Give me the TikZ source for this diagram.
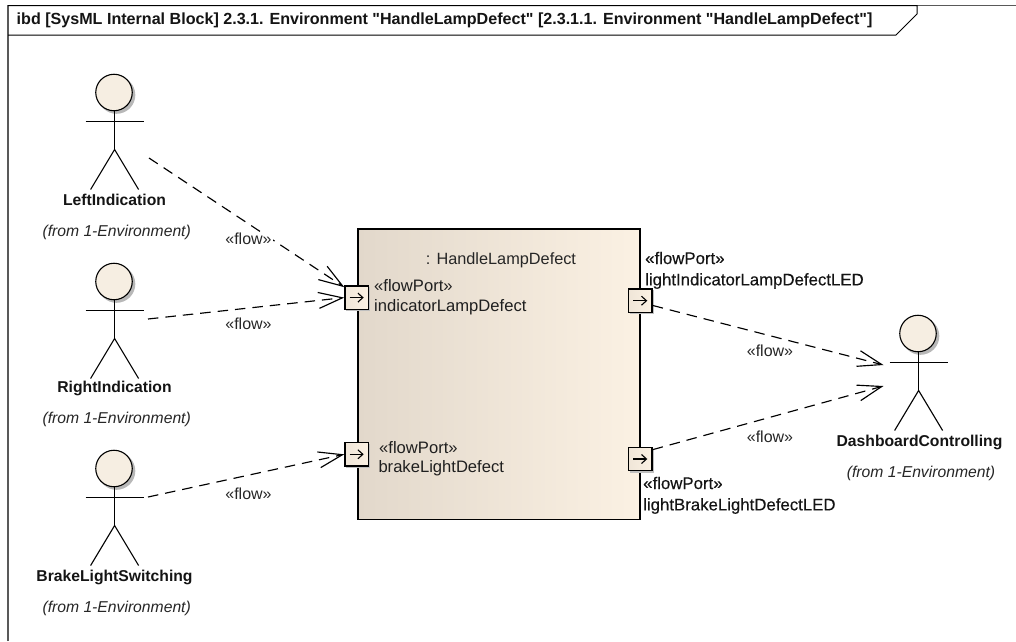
\documentclass[tikz,border=0pt]{standalone}
\usepackage{fontspec}
\setmainfont[Ligatures=TeXOff]{Liberation Sans}
\newfontfamily\semibold[Ligatures=TeXOff,FakeBold=0.25]{Liberation Sans}
\usetikzlibrary{arrows.meta}
\definecolor{fillL}{RGB}{226,216,203}
\definecolor{fillR}{RGB}{251,241,227}
\definecolor{headfill}{RGB}{246,238,226}
\tikzset{
 x=1pt,y=-1pt,
 txt/.style={inner sep=0pt,font=\fontsize{16.6}{18}\selectfont,text=black!88},
 txtb/.style={inner sep=0pt,font=\fontsize{16.8}{18}\semibold,text=black!92},
 bold/.style={inner sep=0pt,font=\fontsize{15.7}{18}\selectfont\bfseries,text=black!92},
 from/.style={inner sep=0pt,font=\fontsize{15.7}{18}\selectfont\itshape,text=black!85},
 flowlbl/.style={inner sep=0pt,font=\fontsize{16}{18}\selectfont,text=black!85},
 portbox/.style={draw=black,line width=1.4pt,minimum size=23.5pt,inner sep=0pt,left color=fillL!45!fillR,right color=fillR},
 flow/.style={draw=black,line width=1.15pt,dash pattern=on 10.5pt off 7pt,-{Straight Barb[length=24pt,width=16pt]}},
 limb/.style={draw=black,line width=1.1pt},
 portarrow/.style={draw=black,line width=1.1pt,-{Straight Barb[length=5pt,width=9pt]}},
}
\newcommand{\actor}[3]{%
 \fill[black!28] (#2+2.5,#3+2.5) circle (18.8);
 \node[circle,draw=black,line width=1.1pt,minimum size=36.5pt,inner sep=0pt,fill=headfill] (#1head) at (#2,#3) {};
 \coordinate (#1hip) at (#2+0.6,#3+57);
 \coordinate (#1neck) at (#2+0.6,#3+18);
 \coordinate (#1la) at (#2-28.4,#3+29);
 \coordinate (#1ra) at (#2+29.6,#3+29);
 \coordinate (#1lf) at (#2-23.4,#3+97);
 \coordinate (#1rf) at (#2+24.6,#3+97);
 \draw[limb] (#1neck) -- (#1hip);
 \draw[limb] (#1la) -- (#1ra);
 \draw[limb] (#1lf) -- (#1hip) -- (#1rf);
}
\newcommand{\port}[3]{%
 \fill[black!25] (#2-10.5,#3-10.5) rectangle (#2+13.5,#3+13.5);
 \node[portbox] (#1) at (#2,#3) {};
 \coordinate (#1s) at (#2-7,#3);
 \coordinate (#1e) at (#2+7,#3);
 \draw[portarrow] (#1s) -- (#1e);
}
\begin{document}
\begin{tikzpicture}
\useasboundingbox (0,0) rectangle (1016,641);
\fill[white] (0,0) rectangle (1016,641);
\draw[black!65,line width=1.4pt] (8,641) -- (8,5.5) -- (1016,5.5);
\draw[black,line width=1pt] (8,5.5) -- (917,5.5) -- (917,14) -- (896,35) -- (8,35);
\node[inner sep=0pt,font=\fontsize{16.1}{18}\selectfont\bfseries,anchor=west,text=black!92] (title) at (16.5,20.5) {ibd [SysML Internal Block] 2.3.1. Environment "HandleLampDefect" [2.3.1.1. Environment "HandleLampDefect"]};
\actor{a}{114}{92.5}
\actor{b}{114}{281.5}
\actor{c}{114}{468.5}
\actor{d}{918}{333.5}
\node[bold] (an) at (114.5,200) {LeftIndication};
\node[from] (af) at (116.7,232) {(from 1-Environment)};
\node[bold] (bn) at (114.5,388) {RightIndication};
\node[from] (bf) at (116.7,419) {(from 1-Environment)};
\node[bold] (cn) at (114.5,577) {BrakeLightSwitching};
\node[from] (cf) at (116.7,608) {(from 1-Environment)};
\node[bold] (dn) at (919.5,442) {DashboardControlling};
\node[from] (df) at (921,473) {(from 1-Environment)};
\node[draw=black,line width=1.2pt,minimum width=282pt,minimum height=290.5pt,inner sep=0pt,anchor=north west,left color=fillL,middle color=fillR!88!fillL,right color=fillR] (blk) at (357.3,228.3) {};
\node[flowlbl,font=\fontsize{16.3}{18}\selectfont] (blkn) at (501,260) {: HandleLampDefect};
\port{pa}{356.7}{297.6}
\port{pb}{356.7}{454.3}
\port{pc}{640.3}{300.7}
\port{pd}{640.3}{459}
\node[txt,anchor=west] (pat) at (374,286) {«flowPort»};
\node[txt,anchor=west] (pab) at (374,307) {indicatorLampDefect};
\node[txt,anchor=west] (pbt) at (379,447.7) {«flowPort»};
\node[txt,anchor=west] (pbb) at (378.3,468.3) {brakeLightDefect};
\node[txtb,anchor=west] (pct) at (645,258) {«flowPort»};
\node[txtb,anchor=west] (pcb) at (645,281) {lightIndicatorLampDefectLED};
\node[txtb,anchor=west] (pdt) at (643,483) {«flowPort»};
\node[txtb,anchor=west] (pdb) at (643,506) {lightBrakeLightDefectLED};
\coordinate (fa) at (149,158);
\coordinate (fb) at (148,319);
\coordinate (fc) at (148,497);
\coordinate (ta) at (883.5,365);
\coordinate (tb) at (883.5,386);
\draw[flow] (fa) -- (pa.140);
\draw[flow] (fb) -- (pa.west);
\draw[flow] (fc) -- (pb.west);
\draw[flow] (pc.-21) -- (ta);
\draw[flow] (pd.37) -- (tb);
\node[flowlbl,fill=white,inner xsep=1pt] (l1) at (248.5,239) {«flow»};
\node[flowlbl] (l2) at (248.5,324) {«flow»};
\node[flowlbl] (l3) at (248.5,494) {«flow»};
\node[flowlbl] (l4) at (770,351) {«flow»};
\node[flowlbl] (l5) at (770,437) {«flow»};
\end{tikzpicture}
\end{document}
